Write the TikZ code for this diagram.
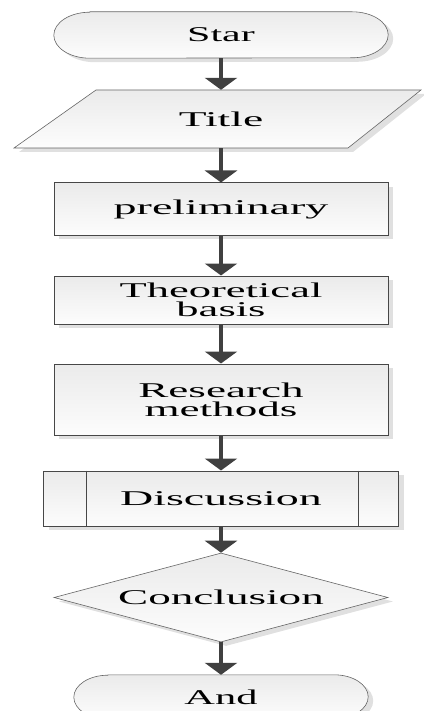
\documentclass[tikz,border=0pt]{standalone}
\usepackage{fontspec}
\setmainfont{Liberation Serif}
\usetikzlibrary{shapes.geometric,arrows.meta,shadows,backgrounds}
\newcommand{\wtxt}[2][2.15]{\scalebox{#1}[1]{#2}}
\begin{document}
\begin{tikzpicture}[x=1pt,y=-1pt,
  shade/.style={top color=black!8, bottom color=black!1,
    drop shadow={shadow xshift=5pt,shadow yshift=-4pt,fill=black!12,opacity=1}},
  thinbox/.style={shade, draw=black!60, line width=0.6pt},
  rectbox/.style={shade, draw=black!72, line width=1pt},
  txt/.style={font=\fontsize{21}{19}\selectfont, align=center, inner sep=0pt},
  flow/.style={draw=black!75, line width=4.5pt, -{Triangle[width=32pt,length=12pt]}}
]
\useasboundingbox (0,0) rectangle (423,711);

% nodes
\node[txt, minimum width=334pt, minimum height=46pt] (star) at (221,35) {\wtxt[2.0]{Star}};
\node[txt, minimum width=250pt, minimum height=58pt] (title) at (221,119) {\wtxt[2.17]{Title}};
\node[rectbox, txt, minimum width=334pt, minimum height=52pt] (prelim) at (221,209) {\wtxt[2.19]{preliminary}};
\node[rectbox, txt, minimum width=334pt, minimum height=48pt] (theo) at (221,300) {\wtxt[2.12]{Theoretical}\\\wtxt[2.12]{basis}};
\node[rectbox, txt, minimum width=334pt, minimum height=71pt] (res) at (221,399.5) {\wtxt[2.15]{Research}\\\wtxt[2.15]{methods}};
\node[rectbox, txt, minimum width=355pt, minimum height=55pt] (disc) at (221,498.5) {\wtxt[2.19]{Discussion}};
\draw[draw=black!72, line width=1pt] ([xshift=43pt]disc.north west) -- ([xshift=43pt]disc.south west);
\draw[draw=black!72, line width=1pt] ([xshift=-41pt]disc.north east) -- ([xshift=-41pt]disc.south east);
\node[thinbox, txt, diamond, aspect=3.75, minimum width=334pt, minimum height=89pt] (concl) at (221,597.5) {\wtxt[2.15]{Conclusion}};
\node[txt, minimum width=294pt, minimum height=44pt] (and) at (221,697) {\wtxt[2.02]{And}};

% shapes drawn behind text
\begin{scope}[on background layer]
\draw[thinbox] ([xshift=36pt]star.north west) -- ([xshift=-36pt]star.north east)
  arc[start angle=90, end angle=-90, x radius=36pt, y radius=23pt]
  -- ([xshift=36pt]star.south west)
  arc[start angle=270, end angle=90, x radius=36pt, y radius=23pt] -- cycle;
\draw[thinbox] (96,90) -- (421,90) -- (348,148) -- (14,148) -- cycle;
\draw[thinbox] ([xshift=34pt]and.north west) -- ([xshift=-34pt]and.north east)
  arc[start angle=90, end angle=-90, x radius=34pt, y radius=22pt]
  -- ([xshift=34pt]and.south west)
  arc[start angle=270, end angle=90, x radius=34pt, y radius=22pt] -- cycle;
\end{scope}

% connectors
\draw[flow] (star.south) -- (title.north);
\draw[flow] (title.south) -- (prelim.north);
\draw[flow] (prelim.south) -- (theo.north);
\draw[flow] (theo.south) -- (res.north);
\draw[flow] (res.south) -- (disc.north);
\draw[flow] (disc.south) -- (concl.north);
\draw[flow] (concl.south) -- (and.north);
\end{tikzpicture}
\end{document}
